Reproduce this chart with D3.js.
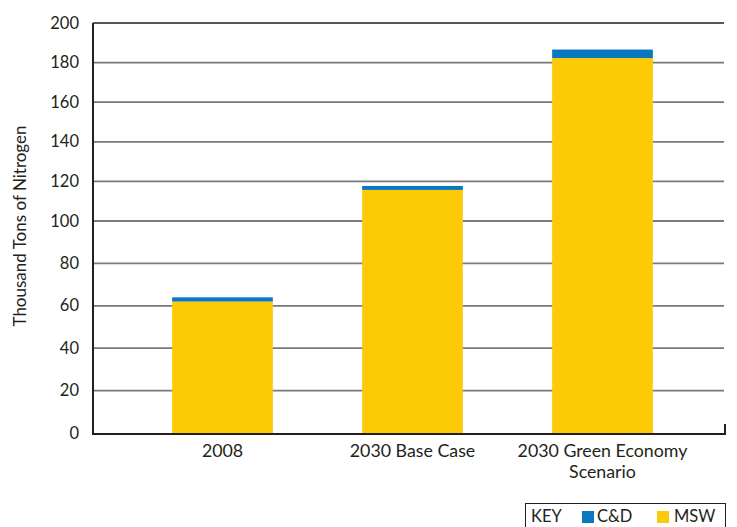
<!DOCTYPE html>
<html>
<head>
<meta charset="utf-8">
<script src="https://cdn.jsdelivr.net/npm/d3@7"></script>
<style>
  body { margin: 0; background: #fff; }
  text { font-family: Lato, "Open Sans", sans-serif; fill: #231f20; }
</style>
</head>
<body>
<div class="chart"></div>
<script>
// data
var categories = ["2008", "2030 Base Case", "2030 Green Economy Scenario"];
var catLines = [["2008"], ["2030 Base Case"], ["2030 Green Economy", "Scenario"]];
var msw = [62, 115.7, 182.3];
var cd = [2, 2, 4.3];
var yTicks = [0, 20, 40, 60, 80, 100, 120, 140, 160, 180, 200];

var svgWidth = 737, svgHeight = 527;

var svg = d3.select(".chart")
    .append("svg")
    .attr("width", svgWidth)
    .attr("height", svgHeight);

// the source image is slightly stretched at the bottom, so use a two-piece linear scale
var y = d3.scaleLinear()
    .domain([0, 100, 200])
    .range([433, 221, 23]);

var x = d3.scaleBand()
    .domain(categories)
    .range([127.5, 697.5])
    .paddingInner(0.47)
    .paddingOuter(0.235);

var left = 93, right = 725;

// grid lines
svg.append("g")
    .selectAll("line")
    .data(yTicks.filter(function(d) { return d > 0 && d < 200; }))
    .enter()
    .append("line")
    .attr("x1", left)
    .attr("x2", right - 1)
    .attr("y1", function(d) { return y(d); })
    .attr("y2", function(d) { return y(d); })
    .style("stroke", "#7a7a7a")
    .style("stroke-width", 1.8);

// top line
svg.append("line")
    .attr("x1", left).attr("x2", right - 1)
    .attr("y1", y(200)).attr("y2", y(200))
    .style("stroke", "#231f20").style("stroke-width", 1.5);

// bars
var bars = svg.append("g");
bars.selectAll(".msw")
    .data(categories)
    .enter()
    .append("rect")
    .attr("class", "msw")
    .attr("x", function(d) { return x(d); })
    .attr("width", x.bandwidth())
    .attr("y", function(d, i) { return y(msw[i]); })
    .attr("height", function(d, i) { return y(0) - y(msw[i]); })
    .style("fill", "#fcca07");

bars.selectAll(".cd")
    .data(categories)
    .enter()
    .append("rect")
    .attr("class", "cd")
    .attr("x", function(d) { return x(d); })
    .attr("width", x.bandwidth())
    .attr("y", function(d, i) { return y(msw[i] + cd[i]); })
    .attr("height", function(d, i) { return y(msw[i]) - y(msw[i] + cd[i]); })
    .style("fill", "#0a77c0");

// axes frame
svg.append("path")
    .attr("d", "M" + left + "," + y(200) + "V" + (y(0) + 1) + "H" + right + "V" + (y(0) - 9))
    .style("fill", "none")
    .style("stroke", "#231f20")
    .style("stroke-width", 2);

// y tick labels
svg.append("g")
    .selectAll("text")
    .data(yTicks)
    .enter()
    .append("text")
    .attr("x", 79)
    .attr("y", function(d) { return y(d) + 5.5; })
    .attr("text-anchor", "end")
    .style("font-size", "16.5px")
    .text(function(d) { return d; });

// x labels, each line its own text
svg.append("g")
    .selectAll("g")
    .data(categories)
    .enter()
    .append("g")
    .attr("transform", function(d) {
        return "translate(" + (x(d) + x.bandwidth() / 2) + ",457)";
    })
    .each(function(d, i) {
        var g = d3.select(this);
        catLines[i].forEach(function(line, j) {
            g.append("text")
                .attr("text-anchor", "middle")
                .attr("y", j * 21)
                .style("font-size", "17.8px")
                .text(line);
        });
    });

// y axis title
svg.append("text")
    .attr("transform", "translate(26,226) rotate(-90)")
    .attr("text-anchor", "middle")
    .style("font-size", "17px")
    .text("Thousand Tons of Nitrogen");

// legend
var legend = svg.append("g");
legend.append("rect")
    .attr("x", 525.5).attr("y", 503.5)
    .attr("width", 200).attr("height", 30)
    .style("fill", "none")
    .style("stroke", "#231f20")
    .style("stroke-width", 1);
legend.append("text")
    .attr("x", 531).attr("y", 522)
    .style("font-size", "16.5px")
    .text("KEY");
legend.append("rect")
    .attr("x", 582).attr("y", 511)
    .attr("width", 12).attr("height", 12)
    .style("fill", "#0a77c0");
legend.append("text")
    .attr("x", 597).attr("y", 522)
    .style("font-size", "16.5px")
    .text("C&D");
legend.append("rect")
    .attr("x", 657).attr("y", 511)
    .attr("width", 12).attr("height", 12)
    .style("fill", "#fcca07");
legend.append("text")
    .attr("x", 674).attr("y", 522)
    .style("font-size", "16.5px")
    .text("MSW");
</script>
</body>
</html>
